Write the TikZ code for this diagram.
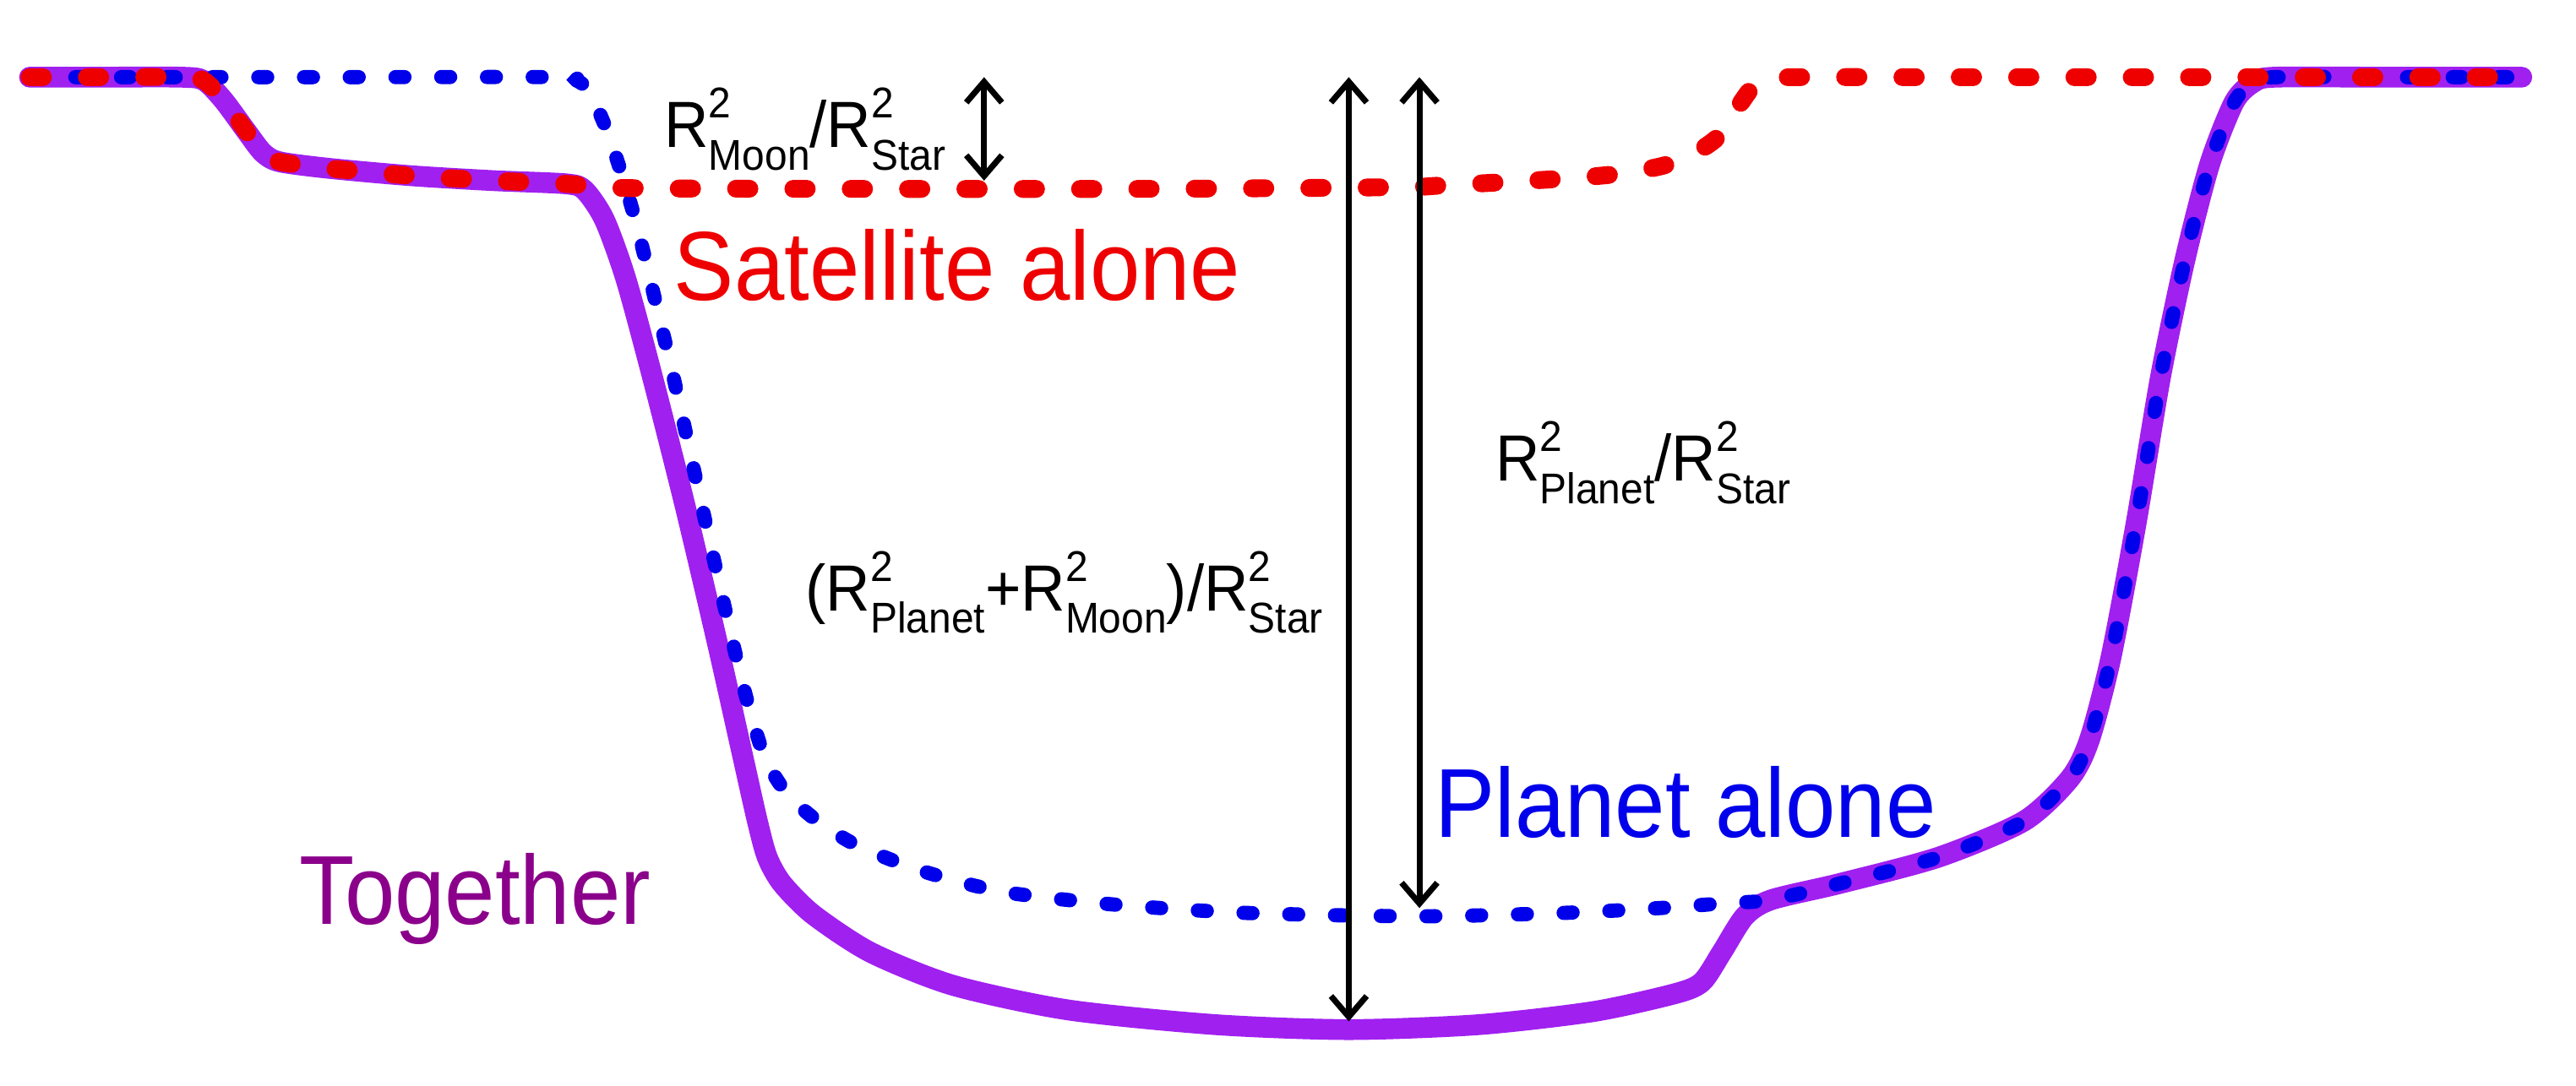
\documentclass[tikz,border=0pt]{standalone}
\usepackage{fontspec}
\setmainfont{Liberation Sans}
\newfontfamily\bigfont[FakeStretch=0.92]{Liberation Sans}
\newfontfamily\labfont[FakeStretch=0.94]{Liberation Sans}
\usetikzlibrary{arrows.meta}
\definecolor{togline}{RGB}{160,32,240}
\definecolor{togtext}{RGB}{139,0,139}
\definecolor{plblue}{RGB}{0,0,235}
\definecolor{satred}{RGB}{238,0,0}
\newcommand\Rsq[1]{R\rlap{\fontsize{14.5}{15}\selectfont\raisebox{10pt}{2}}{\fontsize{14.5}{15}\selectfont\raisebox{-7.5pt}{#1}}}
\begin{document}
\begin{tikzpicture}[x=0.019445cm, y=-0.019445cm,
  together/.style={draw=togline, line width=7pt, line join=round, line cap=round},
  planet/.style={draw=plblue, line width=4.8pt, line cap=round, dash pattern=on 3pt off 12.4pt},
  satellite/.style={draw=satred, line width=6pt, line cap=round, dash pattern=on 4.5pt off 14.8pt},
  dim/.style={black, line width=2pt, {Straight Barb[length=7pt,width=12pt]}-{Straight Barb[length=7pt,width=12pt]}},
  lab/.style={inner sep=0pt, anchor=base west, font=\labfont\fontsize{22}{24}\selectfont},
  biglab/.style={inner sep=0pt, anchor=base west, font=\bigfont\fontsize{33}{36}\selectfont}]
\useasboundingbox (0,0) rectangle (1568,661);
% Together
\draw[together] plot[smooth, tension=0.45] coordinates {(18,47) (60,47) (110,47) (124,49) (136,61) (150,80) (160,93) (170,98.5) (200,102.5) (250,107) (300,110) (345,112) (356,116) (368,134) (381,170) (397,229) (417,308) (437,393) (452,460) (461,500) (467,522) (476,538) (495,557) (530,580) (580,600) (650,615) (740,624) (821,627) (900,624) (970,616) (1020,605) (1036,598) (1048,580) (1062,558) (1078,548) (1120,538) (1180,522) (1232,500) (1260,474) (1272,450) (1285,400) (1300,320) (1315,230) (1330,158) (1345,100) (1360,62) (1372,50) (1385,47) (1450,47) (1535,47)};
% Planet alone
\draw[planet] plot[smooth, tension=0.45] coordinates {(18,47) (200,47) (340,47) (351,49) (359,56) (370,81) (379,108) (387,135) (394,163) (410,230) (425,298) (440,365) (453,420) (465,460) (478,482) (495,498) (520,514) (560,530) (610,543) (680,551) (760,556) (864,558) (950,556) (1010,553) (1050,550) (1078,548) (1120,538) (1180,522) (1232,500) (1260,474) (1272,450) (1285,400) (1300,320) (1315,230) (1330,158) (1345,100) (1360,62) (1372,50) (1385,47) (1450,47) (1535,47)};
% Satellite alone
\draw[satellite] plot[smooth, tension=0.45] coordinates {(18,47) (60,47) (110,47) (124,49) (136,61) (150,80) (160,93) (170,98.5) (200,102.5) (250,107) (300,110) (345,112) (380,114.5) (500,115) (700,115) (850,114) (877,113) (948,109) (984,106) (1012,101) (1030,94) (1045,84) (1056,68) (1066,54) (1075,48) (1090,47) (1200,47) (1535,47)};
% dimension arrows
\coordinate (m1) at (599,47); \coordinate (m2) at (599,110);
\coordinate (b1) at (821,47); \coordinate (b2) at (821,622);
\coordinate (p1) at (864,47); \coordinate (p2) at (864,553);
\draw[dim] (m1) -- (m2);
\draw[dim] (b1) -- (b2);
\draw[dim] (p1) -- (p2);
% labels
\node[lab] (lmoon) at (404,90) {\Rsq{Moon}/\Rsq{Star}};
\node[biglab, text=satred] (lsat) at (410,183) {Satellite alone};
\node[lab] (lboth) at (490,372) {(\Rsq{Planet}+\Rsq{Moon})/\Rsq{Star}};
\node[lab] (lplanet) at (910,293) {\Rsq{Planet}/\Rsq{Star}};
\node[biglab, text=plblue] (lpl) at (873,510) {Planet alone};
\node[biglab, text=togtext] (ltog) at (182,563) {Together};
\end{tikzpicture}
\end{document}
